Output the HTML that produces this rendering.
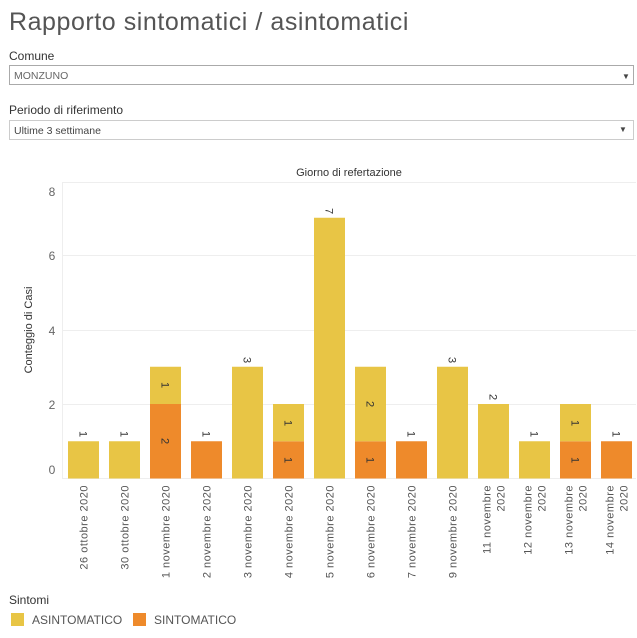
<!DOCTYPE html>
<html><head><meta charset="utf-8"><style>
body{margin:0;background:#fff;width:637px;height:633px;overflow:hidden;font-family:"Liberation Sans",sans-serif}
</style></head><body>
<svg width="637" height="633" xmlns="http://www.w3.org/2000/svg" font-family="Liberation Sans, sans-serif">
<text x="9" y="30" font-size="25" fill="#555" letter-spacing="0.55">Rapporto sintomatici / asintomatici</text>
<text x="9" y="60" font-size="12" fill="#333">Comune</text>
<rect x="9.5" y="65.5" width="624" height="19" fill="#fff" stroke="#aaa"/>
<text x="14" y="79" font-size="10.5" fill="#666">MONZUNO</text>
<text x="622" y="79" font-size="8" fill="#444">▼</text>
<text x="9" y="114" font-size="12" fill="#333">Periodo di riferimento</text>
<rect x="9.5" y="120.5" width="624" height="19" fill="#fff" stroke="#ccc"/>
<text x="14" y="134" font-size="10.5" fill="#444">Ultime 3 settimane</text>
<text x="619" y="132" font-size="8" fill="#444">▼</text>
<text x="349" y="176" font-size="11" fill="#333" text-anchor="middle">Giorno di refertazione</text>
<g stroke="#eee" stroke-width="1">
<line x1="63" y1="182.5" x2="636" y2="182.5"/>
<line x1="63" y1="255.5" x2="636" y2="255.5"/>
<line x1="63" y1="330.5" x2="636" y2="330.5"/>
<line x1="63" y1="404.5" x2="636" y2="404.5"/>
<line x1="62.5" y1="182" x2="62.5" y2="479"/>
<line x1="63" y1="478.5" x2="636" y2="478.5"/>
</g>
<g font-size="12" fill="#666" text-anchor="middle">
<text x="52" y="196">8</text><text x="52" y="260">6</text><text x="52" y="335">4</text><text x="52" y="409">2</text><text x="52" y="474">0</text>
</g>
<text transform="translate(32,330) rotate(-90)" font-size="11" fill="#333" text-anchor="middle">Conteggio di Casi</text>
<g>
<rect x="68" y="441.25" width="31" height="37.25" fill="#E8C545"/>
<rect x="109" y="441.25" width="31" height="37.25" fill="#E8C545"/>
<rect x="150" y="404" width="31" height="74.5" fill="#EE8A2B"/>
<rect x="150" y="366.75" width="31" height="37.25" fill="#E8C545"/>
<rect x="191" y="441.25" width="31" height="37.25" fill="#EE8A2B"/>
<rect x="232" y="366.75" width="31" height="111.75" fill="#E8C545"/>
<rect x="273" y="441.25" width="31" height="37.25" fill="#EE8A2B"/>
<rect x="273" y="404" width="31" height="37.25" fill="#E8C545"/>
<rect x="314" y="217.75" width="31" height="260.75" fill="#E8C545"/>
<rect x="355" y="441.25" width="31" height="37.25" fill="#EE8A2B"/>
<rect x="355" y="366.75" width="31" height="74.5" fill="#E8C545"/>
<rect x="396" y="441.25" width="31" height="37.25" fill="#EE8A2B"/>
<rect x="437" y="366.75" width="31" height="111.75" fill="#E8C545"/>
<rect x="478" y="404" width="31" height="74.5" fill="#E8C545"/>
<rect x="519" y="441.25" width="31" height="37.25" fill="#E8C545"/>
<rect x="560" y="441.25" width="31" height="37.25" fill="#EE8A2B"/>
<rect x="560" y="404" width="31" height="37.25" fill="#E8C545"/>
<rect x="601" y="441.25" width="31" height="37.25" fill="#EE8A2B"/>
</g>
<g font-size="11" fill="#333" text-anchor="middle">
<text transform="translate(79.5,434) rotate(90)">1</text>
<text transform="translate(120.5,434) rotate(90)">1</text>
<text transform="translate(161.5,441) rotate(90)">2</text>
<text transform="translate(161.5,385) rotate(90)">1</text>
<text transform="translate(202.5,434) rotate(90)">1</text>
<text transform="translate(243.5,360) rotate(90)">3</text>
<text transform="translate(284.5,460) rotate(90)">1</text>
<text transform="translate(284.5,423) rotate(90)">1</text>
<text transform="translate(325.5,211) rotate(90)">7</text>
<text transform="translate(366.5,460) rotate(90)">1</text>
<text transform="translate(366.5,404) rotate(90)">2</text>
<text transform="translate(407.5,434) rotate(90)">1</text>
<text transform="translate(448.5,360) rotate(90)">3</text>
<text transform="translate(489.5,397) rotate(90)">2</text>
<text transform="translate(530.5,434) rotate(90)">1</text>
<text transform="translate(571.5,460) rotate(90)">1</text>
<text transform="translate(571.5,423) rotate(90)">1</text>
<text transform="translate(612.5,434) rotate(90)">1</text>
</g>
<g font-size="11" fill="#555" text-anchor="end" letter-spacing="0.5">
<text transform="translate(87.5,485) rotate(-90)">26 ottobre 2020</text>
<text transform="translate(128.5,485) rotate(-90)">30 ottobre 2020</text>
<text transform="translate(169.5,485) rotate(-90)">1 novembre 2020</text>
<text transform="translate(210.5,485) rotate(-90)">2 novembre 2020</text>
<text transform="translate(251.5,485) rotate(-90)">3 novembre 2020</text>
<text transform="translate(292.5,485) rotate(-90)">4 novembre 2020</text>
<text transform="translate(333.5,485) rotate(-90)">5 novembre 2020</text>
<text transform="translate(374.5,485) rotate(-90)">6 novembre 2020</text>
<text transform="translate(415.5,485) rotate(-90)">7 novembre 2020</text>
<text transform="translate(456.5,485) rotate(-90)">9 novembre 2020</text>
<text transform="translate(490.5,485) rotate(-90)">11 novembre</text>
<text transform="translate(504.5,485) rotate(-90)">2020</text>
<text transform="translate(531.5,485) rotate(-90)">12 novembre</text>
<text transform="translate(545.5,485) rotate(-90)">2020</text>
<text transform="translate(572.5,485) rotate(-90)">13 novembre</text>
<text transform="translate(586.5,485) rotate(-90)">2020</text>
<text transform="translate(613.5,485) rotate(-90)">14 novembre</text>
<text transform="translate(627.5,485) rotate(-90)">2020</text>
</g>
<text x="9" y="604" font-size="12" fill="#333">Sintomi</text>
<rect x="11" y="613" width="13" height="13" fill="#E8C545"/>
<text x="32" y="624" font-size="12" fill="#555">ASINTOMATICO</text>
<rect x="133" y="613" width="13" height="13" fill="#EE8A2B"/>
<text x="154" y="624" font-size="12" fill="#555">SINTOMATICO</text>
</svg>
</body></html>
